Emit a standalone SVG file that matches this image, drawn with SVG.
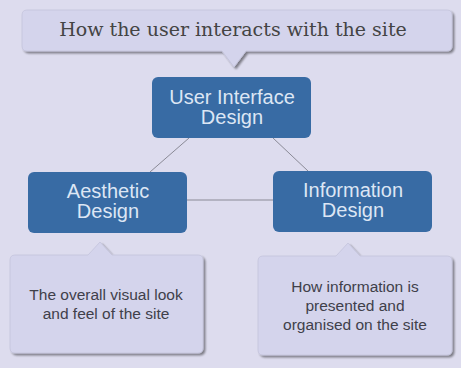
<svg xmlns="http://www.w3.org/2000/svg" width="461" height="368" viewBox="0 0 461 368">
<defs>
<filter id="sh" x="-10%" y="-10%" width="130%" height="130%">
<feGaussianBlur in="SourceAlpha" stdDeviation="1.2"/>
<feOffset dx="1.5" dy="1.5" result="b"/>
<feComponentTransfer><feFuncA type="linear" slope="0.45"/></feComponentTransfer>
<feMerge><feMergeNode/><feMergeNode in="SourceGraphic"/></feMerge>
</filter>
</defs>
<style>
.call{fill:#d4d4ec;stroke:#c4c4dc;stroke-width:0.8;filter:url(#sh)}
.box{fill:#386ba4}
.bt{font-family:"Liberation Sans",Arial,sans-serif;font-size:20px;fill:#dde6f4;text-anchor:middle}
.ct{font-family:"Liberation Sans",Arial,sans-serif;font-size:15.5px;fill:#40404a;text-anchor:middle}
.tt{font-family:"DejaVu Serif","Liberation Serif",serif;font-size:19px;fill:#444;text-anchor:middle}
.ln{stroke:#8a8a96;stroke-width:1;fill:none}
</style>
<rect width="461" height="368" fill="#dddcee"/>
<g id="connectors">
<line class="ln" x1="189" y1="138" x2="150" y2="172"/>
<line class="ln" x1="273" y1="138" x2="308" y2="171"/>
<line class="ln" x1="187" y1="200" x2="273" y2="200"/>
</g>
<g id="callout-top">
<path class="call" d="M27,10 H447 Q452,10 452,15 V46 Q452,51 447,51 H246 L234,67 L222,51 H27 Q22,51 22,46 V15 Q22,10 27,10 Z"/>
<text class="tt" x="233" y="36">How the user interacts with the site</text>
</g>
<g id="ui">
<rect class="box" x="152" y="77" width="159" height="61" rx="6"/>
<text class="bt" x="232" y="104">User Interface</text>
<text class="bt" x="232" y="124">Design</text>
</g>
<g id="aesthetic">
<rect class="box" x="28" y="172" width="159" height="61" rx="6"/>
<text class="bt" x="108" y="198">Aesthetic</text>
<text class="bt" x="108" y="218">Design</text>
</g>
<g id="information">
<rect class="box" x="273" y="171" width="159" height="61" rx="6"/>
<text class="bt" x="353" y="197">Information</text>
<text class="bt" x="353" y="217">Design</text>
</g>
<g id="callout-aesthetic">
<path class="call" d="M15,255 H88 L100,242 L112,255 H198 Q203,255 203,260 V348 Q203,353 198,353 H15 Q10,353 10,348 V260 Q10,255 15,255 Z"/>
<text class="ct" x="106" y="300">The overall visual look</text>
<text class="ct" x="106" y="319">and feel of the site</text>
</g>
<g id="callout-information">
<path class="call" d="M263,256 H336 L348,243 L360,256 H447 Q452,256 452,261 V350 Q452,355 447,355 H263 Q258,355 258,350 V261 Q258,256 263,256 Z"/>
<text class="ct" x="355" y="292">How information is</text>
<text class="ct" x="355" y="311">presented and</text>
<text class="ct" x="355" y="330">organised on the site</text>
</g>
</svg>
